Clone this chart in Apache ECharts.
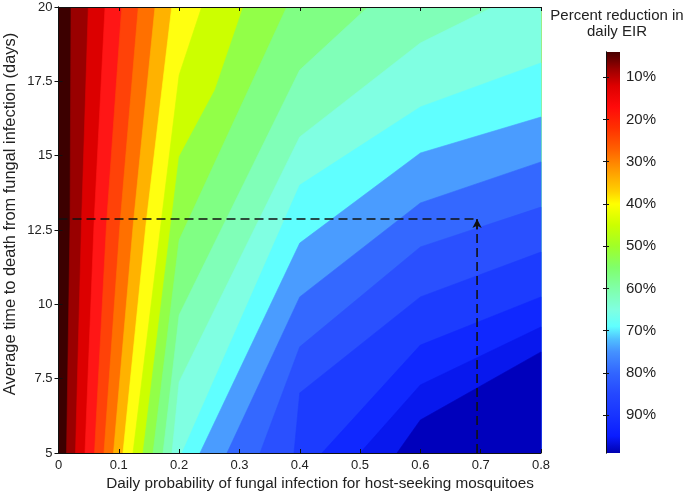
<!DOCTYPE html>
<html><head><meta charset="utf-8">
<script src="https://cdn.jsdelivr.net/npm/echarts@6/dist/echarts.min.js"></script>
<style>html,body{margin:0;padding:0;background:#fff}#c{width:685px;height:499px}</style>
</head><body><div id="c"></div>
<script>
// contour levels (% reduction in daily EIR)
const levels = [5,10,15,20,25,30,35,40,45,50,55,60,65,70,75,80,85,90,95,97.5];
// boundary line of each level: [daily infection probability, days to death]
const c05 = [[0.0207,20],[0.0191,12.70],[0.0133,5]];
const c10 = [[0.0494,20],[0.0381,12.70],[0.0282,5]];
const c15 = [[0.0771,20],[0.0589,12.70],[0.0439,5]];
const c20 = [[0.1048,20],[0.0796,12.70],[0.0597,5]];
const c25 = [[0.1323,20],[0.1020,12.70],[0.0754,5]];
const c30 = [[0.1600,20],[0.1240,12.70],[0.0912,5]];
const c35 = [[0.1877,20],[0.1451,12.70],[0.1069,5]];
const c40 = [[0.2374,20],[0.2,17.71],[0.1235,5]];
const c45 = [[0.3064,20],[0.2595,17.21],[0.2,14.96],[0.1401,5]];
const c50 = [[0.3784,20],[0.2,12.16],[0.1567,5]];
const c55 = [[0.5132,20],[0.4,17.88],[0.2,9.64],[0.1733,5]];
const c60 = [[0.7205,20],[0.6,18.79],[0.4,15.63],[0.2,7.39],[0.1882,5]];
const c65 = [[0.8,18.12],[0.6,16.64],[0.4,14.01],[0.2048,5]];
const c70 = [[0.8,16.30],[0.6,15.09],[0.4,12.06],[0.2346,5]];
const c75 = [[0.8,14.79],[0.6,13.41],[0.4,10.25],[0.2794,5]];
const c80 = [[0.8,13.27],[0.6,11.93],[0.4,8.57],[0.3341,5]];
const c85 = [[0.8,11.76],[0.6,10.25],[0.4,7.02],[0.3905,5]];
const c90 = [[0.8,10.25],[0.6,8.63],[0.4369,5]];
const c95 = [[0.8,9.24],[0.6,7.29],[0.5,5]];
const c975 = [[0.8,8.40],[0.6,6.11],[0.5613,5]];
const contours = [c05,c10,c15,c20,c25,c30,c35,c40,c45,c50,c55,c60,c65,c70,c75,c80,c85,c90,c95,c975];
// marked operating point
const guideProb = 0.694;
const guideDays = 12.87;
// colour bar
const cbarTicks = [10,20,30,40,50,60,70,80,90];
const cbarMin = 4, cbarMax = 99;

// styles
const bandColors = ['#3c0000','#990000','#dc0000','#ff1616','#ff4208','#ff7000','#ffb200','#ffff10',
  '#ccff00','#92ff48','#80ff84','#80ffb8','#80ffe2','#60ffff','#4a9cff','#3468ff','#2a50ff','#1c3cff',
  '#1028ff','#0818ee','#0000bc'];
const cbarStops = [[4,'#480000'],[8,'#9a0000'],[12,'#dd0000'],[17,'#ff0a0a'],[22,'#ff3000'],[27,'#ff6000'],
  [32,'#ff9a00'],[37,'#ffd000'],[40,'#ffff00'],[45,'#ccff00'],[50,'#a0ff28'],[55,'#80ff6a'],[60,'#80ffa8'],
  [65,'#80ffe0'],[69,'#60ffff'],[72,'#50c0ff'],[75,'#4592ff'],[80,'#3266ff'],[85,'#2548ff'],[90,'#1834ff'],
  [95,'#0a1cff'],[99,'#0000b0']];

const FONT = 'Liberation Sans, Arial, sans-serif';
const TXT = '#222';

function renderBand(params, api) {
  const k = params.dataIndex;
  let pts;
  if (k === 0) {
    pts = [[0,20],[0,5],[0.8,5],[0.8,20]];
  } else {
    const c = contours[k-1];
    pts = c.slice();
    pts.push([0.8,5]);
    if (c[0][1] >= 20) pts.push([0.8,20]);
  }
  return {type:'polygon', shape:{points: pts.map(p => api.coord(p))},
    style:{fill: bandColors[k], stroke: bandColors[k], lineWidth: 0.6}};
}
function renderBar(params, api) {
  const p0 = api.coord([0, cbarMin]);
  const p1 = api.coord([1, cbarMax]);
  const stops = cbarStops.map(s => ({offset: (s[0]-cbarMin)/(cbarMax-cbarMin), color: s[1]}));
  return {type:'rect', shape:{x:p0[0], y:p0[1], width:p1[0]-p0[0], height:p1[1]-p0[1]},
    style:{fill: new echarts.graphic.LinearGradient(0,0,0,1,stops)}};
}

const chart = echarts.init(document.getElementById('c'), null, {renderer:'canvas'});
const axisLine = {show:true, lineStyle:{color:'#111', width:1}};
const tick = {show:true, inside:true, length:4, lineStyle:{color:'#111'}};
chart.setOption({
  animation:false,
  textStyle:{fontFamily: FONT},
  graphic:[
    {type:'text', x:617, y:8, z:100, style:{text:'Percent reduction in\ndaily EIR', textAlign:'center',
      textVerticalAlign:'top', fontSize:15, lineHeight:16, fill:TXT, fontFamily:FONT}},
    {type:'text', x:320, y:484, z:100, style:{text:'Daily probability of fungal infection for host-seeking mosquitoes',
      textAlign:'center', textVerticalAlign:'middle', fontSize:15.3, fill:TXT, fontFamily:FONT}},
    {type:'text', x:10, y:214, rotation:Math.PI/2, z:100, style:{text:'Average time to death from fungal infection (days)',
      textAlign:'center', textVerticalAlign:'middle', fontSize:16.4, fill:TXT, fontFamily:FONT}}
  ],
  grid:[
    {left:58.5, top:7, width:482.5, height:446, outerBoundsMode:'none', containLabel:false},
    {left:606, top:52, width:14, height:401, outerBoundsMode:'none', containLabel:false}
  ],
  xAxis:[
    {gridIndex:0, type:'value', min:0, max:0.8, interval:0.1, position:'bottom', z:10,
     axisLine, axisTick:tick, splitLine:{show:false},
     axisLabel:{fontSize:13, color:TXT, margin:6, fontFamily:FONT}},
    {gridIndex:0, type:'value', min:0, max:0.8, interval:0.1, position:'top', z:10,
     axisLine, axisTick:tick, axisLabel:{show:false}, splitLine:{show:false}},
    {gridIndex:1, type:'value', min:0, max:1, show:false}
  ],
  yAxis:[
    {gridIndex:0, type:'value', min:5, max:20, interval:2.5, position:'left', z:10,
     axisLine, axisTick:tick, splitLine:{show:false},
     axisLabel:{fontSize:13, color:TXT, margin:6, fontFamily:FONT}},
    {gridIndex:0, type:'value', min:5, max:20, interval:2.5, position:'right', z:10,
     axisLine, axisTick:tick, axisLabel:{show:false}, splitLine:{show:false}},
    {gridIndex:1, type:'value', min:cbarMin, max:cbarMax, inverse:true, position:'right', z:10,
     axisLine, splitLine:{show:false},
     axisTick:{show:true, inside:true, length:3, customValues:cbarTicks, lineStyle:{color:'#111'}},
     axisLabel:{show:true, customValues:cbarTicks, formatter:'{value}%', fontSize:15, color:TXT, margin:6, fontFamily:FONT}},
    {gridIndex:1, type:'value', min:cbarMin, max:cbarMax, inverse:true, position:'left', z:10,
     axisLine, splitLine:{show:false}, axisLabel:{show:false},
     axisTick:{show:true, inside:true, length:3, customValues:cbarTicks, lineStyle:{color:'#111'}}}
  ],
  series:[
    {type:'custom', xAxisIndex:0, yAxisIndex:0, clip:true, renderItem:renderBand,
     data: bandColors.map(() => [0.4, 12.5]), silent:true},
    {type:'line', xAxisIndex:0, yAxisIndex:0, symbol:'none', silent:true, z:5,
     lineStyle:{color:'#111', width:1.6, type:[9,5]},
     data:[[0, guideDays],[guideProb, guideDays]]},
    {type:'line', xAxisIndex:0, yAxisIndex:0, symbol:'none', silent:true, z:5,
     lineStyle:{color:'#111', width:1.6, type:[9,5]},
     data:[[guideProb, 5],[guideProb, guideDays]],
     markLine:{silent:true, symbol:['none','arrow'], symbolSize:[7,9], label:{show:false},
       lineStyle:{color:'#111', width:1.6, type:'solid'},
       data:[[{coord:[guideProb, guideDays-0.35]},{coord:[guideProb, guideDays]}]]}},
    {type:'custom', xAxisIndex:2, yAxisIndex:2, renderItem:renderBar, data:[[0.5, 50]], silent:true}
  ]
});
</script></body></html>
